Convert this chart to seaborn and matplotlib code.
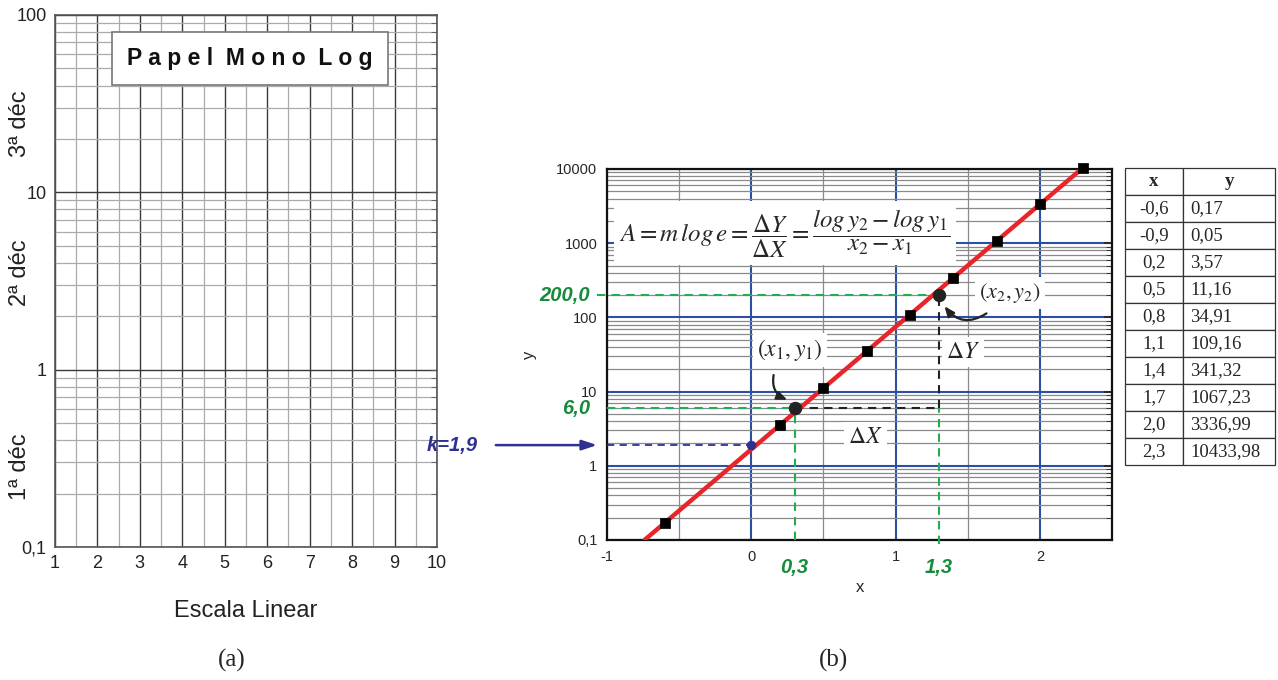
import numpy as np
import pandas as pd
import matplotlib
matplotlib.use("Agg")
import matplotlib.pyplot as plt
import matplotlib.transforms as mtransforms
from matplotlib.ticker import MultipleLocator, LogLocator, FixedLocator, NullFormatter, FixedFormatter
import seaborn as sns

# ---------------- data ----------------
table_x = ["-0,6", "-0,9", "0,2", "0,5", "0,8", "1,1", "1,4", "1,7", "2,0", "2,3"]
table_y = ["0,17", "0,05", "3,57", "11,16", "34,91", "109,16", "341,32", "1067,23", "3336,99", "10433,98"]
x_vals = [-0.6, -0.9, 0.2, 0.5, 0.8, 1.1, 1.4, 1.7, 2.0, 2.3]
y_vals = [0.17, 0.05, 3.57, 11.16, 34.91, 109.16, 341.32, 1067.23, 3336.99, 10433.98]
p1 = (0.3, 6.0)
p2 = (1.3, 200.0)
k_val = 1.9

left_xticks = list(range(1, 11))
left_yticks = [0.1, 1, 10, 100]
left_yticklabels = ["0,1", "1", "10", "100"]
decade_labels = ["1ª déc", "2ª déc", "3ª déc"]
decade_label_y = [0.283, 3.5, 24.5]

right_xticks = [-1, 0, 1, 2]
right_xticklabels = ["-1", "0", "1", "2"]
right_yticks = [0.1, 1, 10, 100, 1000, 10000]
right_yticklabels = ["0,1", "1", "10", "100", "1000", "10000"]

# ---------------- style ----------------
sns.set_style("white")
plt.rcParams["font.family"] = ["Liberation Sans", "DejaVu Sans"]
plt.rcParams["mathtext.fontset"] = "stix"

fig = plt.figure(figsize=(12.78, 6.8), dpi=100)

# ================= panel (a) =================
axa = fig.add_axes([0.0430, 0.1956, 0.2989, 0.7824])
axa.set_xlim(1, 10)
axa.set_yscale("log")
axa.set_ylim(0.1, 100)
axa.xaxis.set_major_locator(FixedLocator(left_xticks))
axa.xaxis.set_minor_locator(MultipleLocator(0.5))
axa.yaxis.set_major_locator(FixedLocator(left_yticks))
axa.yaxis.set_major_formatter(FixedFormatter(left_yticklabels))
axa.yaxis.set_minor_locator(LogLocator(base=10, subs=np.arange(2, 10)))
axa.yaxis.set_minor_formatter(NullFormatter())
axa.grid(which="major", color="#3a3a3a", lw=1.0)
axa.grid(which="minor", color="#ababab", lw=0.9)
axa.tick_params(which="both", direction="in", top=False, right=True, labelsize=13,
                color="#555555", labelcolor="#222222")
axa.tick_params(which="major", length=5, pad=6)
axa.tick_params(which="minor", length=4)
for s in axa.spines.values():
    s.set_color("#555555")
    s.set_linewidth(1.2)
axa.set_xlabel("Escala Linear", fontsize=17, labelpad=20, color="#222222")

trans_a = mtransforms.blended_transform_factory(axa.transAxes, axa.transData)
for lab, yy in zip(decade_labels, decade_label_y):
    axa.text(-0.092, yy, lab, rotation=90, fontsize=17, ha="center", va="center",
             transform=trans_a, color="#222222")

axa.text(0.51, 0.918, "P a p e l  M o n o  L o g", transform=axa.transAxes,
         fontsize=16.5, fontweight="bold", ha="center", va="center", color="#111111",
         bbox=dict(facecolor="white", edgecolor="#777777", lw=1.2, pad=11),
         zorder=5)

fig.text(232 / 1278, 1 - 660 / 680, "(a)", fontsize=18, family="Liberation Serif",
         ha="center", va="center")
fig.text(833 / 1278, 1 - 660 / 680, "(b)", fontsize=18, family="Liberation Serif",
         ha="center", va="center")

# ================= panel (b) =================
axb = fig.add_axes([0.4750, 0.2059, 0.3951, 0.5456])
axb.set_yscale("log")
axb.set_xlim(-1, 2.5)
axb.set_ylim(0.1, 10000)

df = pd.DataFrame({"x": x_vals, "y": y_vals})
shown = df[df["y"] >= 0.1]
slope, icpt = np.polyfit(shown["x"], np.log10(shown["y"]), 1)
x_start = (np.log10(0.1) - icpt) / slope
fit_x = np.linspace(x_start, shown["x"].max(), 60)
fit = pd.DataFrame({"x": fit_x, "y": 10 ** (icpt + slope * fit_x)})
sns.lineplot(data=fit, x="x", y="y", color="#e8262a", lw=3.2, ax=axb, zorder=6)
sns.scatterplot(data=shown, x="x", y="y", marker="s", s=42, color="black",
                edgecolor="black", ax=axb, zorder=7, clip_on=False)

axb.set_xlim(-1, 2.5)
axb.set_ylim(0.1, 10000)
axb.xaxis.set_major_locator(FixedLocator(right_xticks))
axb.xaxis.set_major_formatter(FixedFormatter(right_xticklabels))
axb.xaxis.set_minor_locator(MultipleLocator(0.5))
axb.yaxis.set_major_locator(FixedLocator(right_yticks))
axb.yaxis.set_major_formatter(FixedFormatter(right_yticklabels))
axb.yaxis.set_minor_locator(LogLocator(base=10, subs=np.arange(2, 10)))
axb.yaxis.set_minor_formatter(NullFormatter())
axb.grid(which="major", color="#2b4fa3", lw=1.5)
axb.grid(which="minor", color="#8a8a8a", lw=0.9)
axb.tick_params(which="both", direction="in", right=True, top=False, labelsize=10.5)
axb.tick_params(which="major", length=6, width=1.2, pad=7)
axb.tick_params(which="minor", length=4)
for s in axb.spines.values():
    s.set_color("#111111")
    s.set_linewidth(1.6)
axb.set_xlabel("x", fontsize=12, labelpad=12)
axb.set_ylabel("y", fontsize=12, labelpad=14)

green = "#22ad4e"
green_txt = "#178a3c"
navy = "#2e3192"
dash = (0, (4, 3))
axb.plot([-1.07, p2[0]], [p2[1], p2[1]], color=green, lw=1.5, ls=dash, clip_on=False, zorder=5)
axb.plot([-1.0, p1[0]], [p1[1], p1[1]], color=green, lw=1.5, ls=dash, zorder=5)
axb.plot([p1[0], p2[0]], [p1[1], p1[1]], color="#222222", lw=1.5, ls=dash, zorder=5)
axb.plot([p2[0], p2[0]], [p1[1], p2[1]], color="#222222", lw=1.5, ls=dash, zorder=5)
axb.plot([p1[0], p1[0]], [0.1, p1[1]], color=green, lw=1.5, ls=dash, zorder=5)
axb.plot([p2[0], p2[0]], [0.088, p1[1]], color=green, lw=1.5, ls=dash, clip_on=False, zorder=5)
axb.plot([-1.0, 0], [k_val, k_val], color=navy, lw=1.3, ls=dash, zorder=5)

sns.scatterplot(x=[p1[0], p2[0]], y=[p1[1], p2[1]], marker="o", s=80, color="#222222",
                edgecolor="#222222", ax=axb, zorder=8)
sns.scatterplot(x=[0], y=[k_val], marker="o", s=40, color=navy, edgecolor=navy,
                ax=axb, zorder=8)

lab_kw = dict(fontsize=14.5, fontweight="bold", style="italic")
axb.text(-1.12, p2[1], "200,0", color=green_txt, ha="right", va="center", clip_on=False, **lab_kw)
axb.text(-1.12, p1[1], "6,0", color=green_txt, ha="right", va="center", clip_on=False, **lab_kw)
trans_b = mtransforms.blended_transform_factory(axb.transData, axb.transAxes)
axb.text(p1[0], -0.073, "0,3", color=green_txt, ha="center", va="center",
         transform=trans_b, **lab_kw)
axb.text(p2[0], -0.073, "1,3", color=green_txt, ha="center", va="center",
         transform=trans_b, **lab_kw)
axb.text(-2.07, k_val, "k=1,9", color=navy, ha="center", va="center", clip_on=False, **lab_kw)
axb.annotate("", xy=(-1.05, k_val), xytext=(-1.79, k_val), annotation_clip=False,
             arrowprops=dict(arrowstyle="-|>,head_length=0.9,head_width=0.3",
                             color=navy, lw=1.8))

wbox = dict(facecolor="white", edgecolor="none", pad=3)
axb.text(0.352, 0.827,
         r"$A = m\,log\,e = \dfrac{\Delta Y}{\Delta X} = \dfrac{log\,y_2 - log\,y_1}{x_2 - x_1}$",
         transform=axb.transAxes, fontsize=18, ha="center", va="center",
         bbox=dict(facecolor="white", edgecolor="none", pad=4), zorder=4)
axb.text(0.362, 0.512, r"$(x_1,y_1)$", transform=axb.transAxes, fontsize=17,
         ha="center", va="center", bbox=wbox, zorder=4)
axb.text(0.798, 0.666, r"$(x_2,y_2)$", transform=axb.transAxes, fontsize=16,
         ha="center", va="center", bbox=wbox, zorder=4)
axb.text(0.705, 0.507, r"$\Delta Y$", transform=axb.transAxes, fontsize=17,
         ha="center", va="center", bbox=wbox, zorder=4)
axb.text(0.511, 0.278, r"$\Delta X$", transform=axb.transAxes, fontsize=17,
         ha="center", va="center", bbox=wbox, zorder=4)
axb.annotate("", xy=(0.362, 0.375), xytext=(0.331, 0.452), xycoords="axes fraction",
             textcoords="axes fraction",
             arrowprops=dict(arrowstyle="-|>,head_length=0.6,head_width=0.25",
                             color="#222222", lw=1.6, connectionstyle="arc3,rad=0.45"),
             zorder=9)
axb.annotate("", xy=(0.665, 0.636), xytext=(0.756, 0.615), xycoords="axes fraction",
             textcoords="axes fraction",
             arrowprops=dict(arrowstyle="-|>,head_length=0.6,head_width=0.25",
                             color="#222222", lw=1.6, connectionstyle="arc3,rad=-0.5"),
             zorder=9)

# ================= table =================
tax = fig.add_axes([0.8803, 0.3162, 0.1174, 0.4368])
tax.axis("off")
rows = [[a, b] for a, b in zip(table_x, table_y)]
tbl = tax.table(cellText=rows, colLabels=["x", "y"], bbox=[0, 0, 1, 1],
                colWidths=[0.387, 0.613], cellLoc="center")
tbl.auto_set_font_size(False)
for (r, c), cell in tbl.get_celld().items():
    cell.set_edgecolor("#333333")
    cell.set_linewidth(0.9)
    txt = cell.get_text()
    txt.set_fontfamily("Liberation Serif")
    txt.set_fontsize(13.5)
    if r == 0:
        txt.set_fontweight("bold")
    elif c == 1:
        cell.set_text_props(ha="left")
        cell.PAD = 0.08

fig.savefig("out.png", dpi=100)
